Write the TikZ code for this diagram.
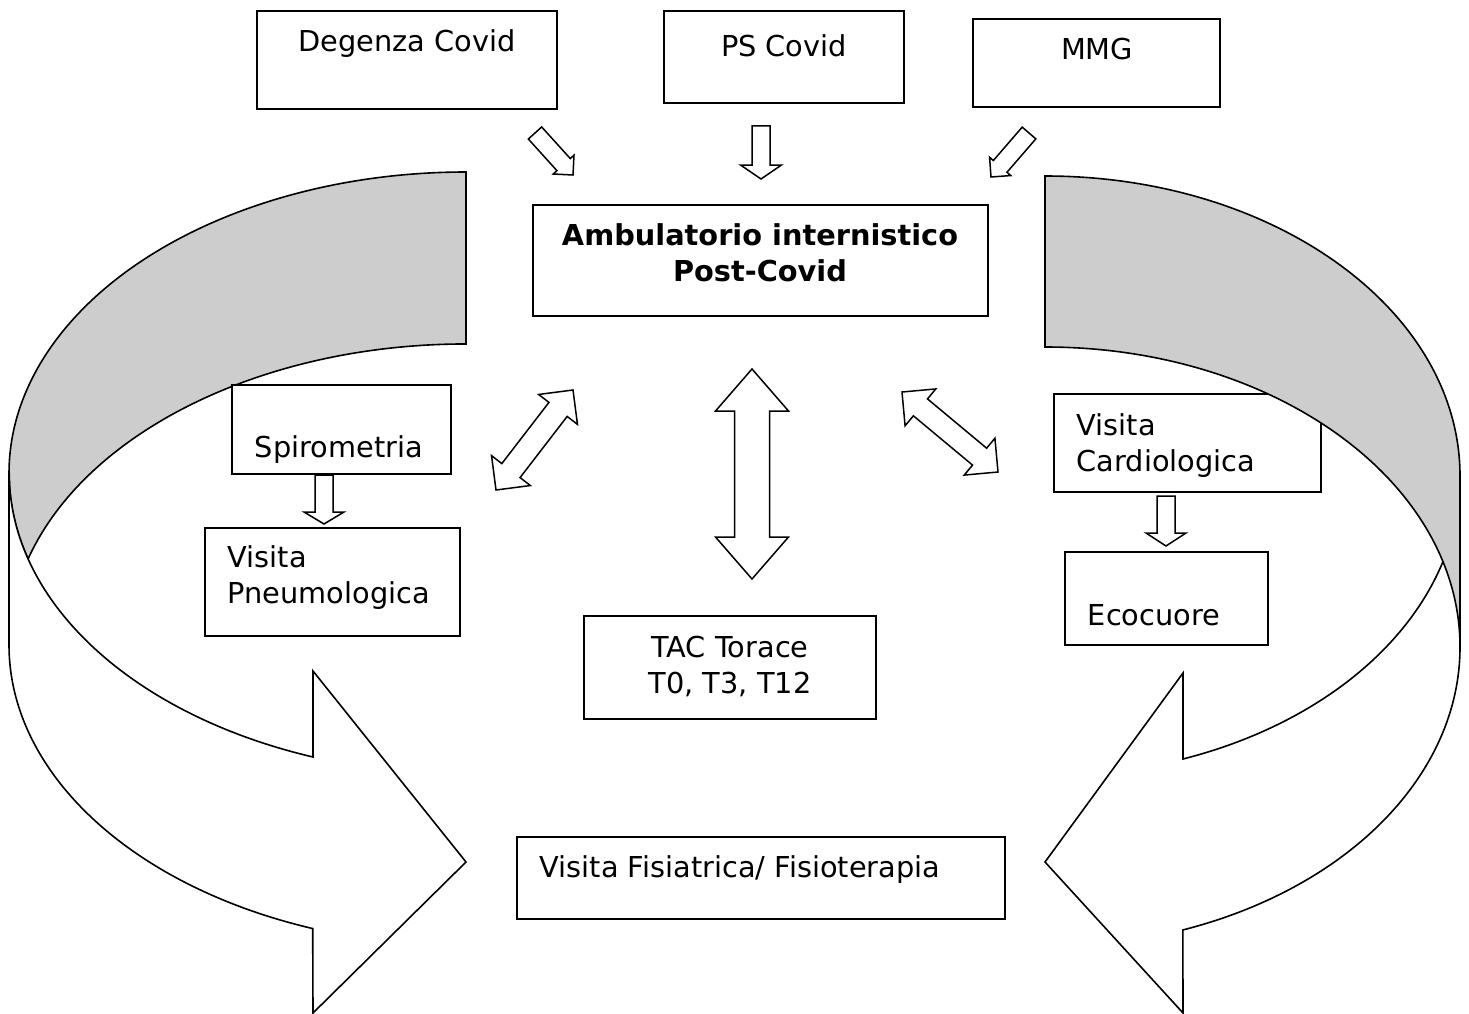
\documentclass[tikz,border=0pt]{standalone}
\usepackage{fontspec}
\setmainfont{DejaVu Sans}
\usepackage{tikz}
\usetikzlibrary{calc}
\definecolor{bandgray}{RGB}{205,205,205}
\newcommand\fatarrow[6]{
  \coordinate (#1-h) at ($(#3)!#6!(#2)$);
  \draw[blockarrow] ($(#2)!#4!90:(#3)$) -- ($(#1-h)!#4!-90:(#2)$) -- ($(#1-h)!#5!-90:(#2)$) -- (#3)
    -- ($(#1-h)!#5!90:(#2)$) -- ($(#1-h)!#4!90:(#2)$) -- ($(#2)!#4!-90:(#3)$) -- cycle;
}
\newcommand\twoarrow[6]{
  \coordinate (#1-p) at ($(#2)!#6!(#3)$);
  \coordinate (#1-q) at ($(#3)!#6!(#2)$);
  \draw[blockarrow] (#2) -- ($(#1-p)!#5!90:(#3)$) -- ($(#1-p)!#4!90:(#3)$) -- ($(#1-q)!#4!-90:(#2)$)
    -- ($(#1-q)!#5!-90:(#2)$) -- (#3) -- ($(#1-q)!#5!90:(#2)$) -- ($(#1-q)!#4!90:(#2)$)
    -- ($(#1-p)!#4!-90:(#3)$) -- ($(#1-p)!#5!-90:(#3)$) -- cycle;
}

\begin{document}
\begin{tikzpicture}[x=1pt, y=1pt, line width=1.6pt,
    boxnode/.style={draw, fill=white, inner sep=0, outer sep=0},
    txtnode/.style={inner sep=0, font=\fontsize{28.8}{36}\selectfont},
    blockarrow/.style={draw, fill=white, line width=1.5pt},
    bandfill/.style={draw, fill=bandgray},
    curvefill/.style={draw, fill=white}]
	\useasboundingbox (0,0) rectangle (1469,-1014);
	\filldraw[bandfill] (466,-172) arc[start angle=90, end angle=196.6, x radius=457, y radius=301]
	    arc[start angle=163.4, end angle=90, x radius=457, y radius=301] -- cycle;
	\filldraw[curvefill] (9,-473) -- (9,-645) arc[start angle=180, end angle=250.4, x radius=457, y radius=301]
	    -- (313,-1013) -- (466,-862) -- (313,-671) -- (313,-757)
	    arc[start angle=250.4, end angle=180, x radius=457, y radius=301] -- cycle;
	\filldraw[curvefill] (1460,-476) -- (1460,-647) arc[start angle=0, end angle=-70.6, x radius=415, y radius=300]
	    -- (1183,-1013) -- (1045,-862) -- (1183,-673) -- (1183,-759)
	    arc[start angle=-70.6, end angle=0, x radius=415, y radius=300] -- cycle;

	\node[boxnode, minimum width=300, minimum height=98] (degenza) at (407,-60) {};
	\node[txtnode, anchor=base] (degenzatext) at (407,-52) {Degenza Covid};
	\node[boxnode, minimum width=240, minimum height=92] (ps) at (784,-57) {};
	\node[txtnode, anchor=base] (pstext) at (784,-57) {PS Covid};
	\node[boxnode, minimum width=247, minimum height=88] (mmg) at (1096.5,-63) {};
	\node[txtnode, anchor=base] (mmgtext) at (1097,-60) {MMG};
	\node[boxnode, minimum width=455, minimum height=111] (amb) at (760.5,-260.5) {};
	\node[txtnode, anchor=base, align=center, font=\fontsize{28.8}{36}\selectfont\bfseries] (ambtext) at (760,-281) {Ambulatorio internistico\\Post-Covid};
	\node[boxnode, minimum width=219, minimum height=89] (spiro) at (341.5,-429.5) {};
	\node[txtnode, anchor=base west] (spirotext) at (254,-457) {Spirometria};
	\node[boxnode, minimum width=255, minimum height=108] (pneumo) at (332.5,-582) {};
	\node[txtnode, anchor=base west, align=left] (pneumotext) at (227,-603) {Visita\\Pneumologica};
	\node[boxnode, minimum width=292, minimum height=103] (tac) at (730,-667.5) {};
	\node[txtnode, anchor=base, align=center] (tactext) at (730,-693) {TAC Torace\\T0, T3, T12};
	\node[boxnode, minimum width=267, minimum height=98] (cardio) at (1187.5,-443) {};
	\node[txtnode, anchor=base west, align=left] (cardiotext) at (1076,-471) {Visita\\Cardiologica};
	\node[boxnode, minimum width=203, minimum height=93] (eco) at (1166.5,-598.5) {};
	\node[txtnode, anchor=base west] (ecotext) at (1087,-625) {Ecocuore};
	\node[boxnode, minimum width=488, minimum height=82] (fis) at (761,-878) {};
	\node[txtnode, anchor=base west] (fistext) at (539,-877) {Visita Fisiatrica/ Fisioterapia};

	\coordinate (dg-a) at (535,-133);
	\coordinate (dg-b) at (573,-175);
	\coordinate (ps-a) at (761,-126);
	\coordinate (ps-b) at (761,-179);
	\coordinate (mm-a) at (1029,-133);
	\coordinate (mm-b) at (991,-177);
	\coordinate (sp-a) at (324,-475);
	\coordinate (sp-b) at (324,-524);
	\coordinate (cd-a) at (1166,-496);
	\coordinate (cd-b) at (1166,-546);
	\coordinate (lf-a) at (496,-490);
	\coordinate (lf-b) at (573,-390);
	\coordinate (md-a) at (752,-369);
	\coordinate (md-b) at (752,-579);
	\coordinate (rt-a) at (902,-392);
	\coordinate (rt-b) at (998,-472);
	\fatarrow{dg}{dg-a}{dg-b}{9pt}{14pt}{14pt}
	\fatarrow{ps}{ps-a}{ps-b}{9pt}{20.5pt}{14pt}
	\fatarrow{mm}{mm-a}{mm-b}{9pt}{14pt}{14pt}
	\fatarrow{sp}{sp-a}{sp-b}{9pt}{20pt}{12pt}
	\fatarrow{cd}{cd-a}{cd-b}{9pt}{20pt}{13pt}
	\twoarrow{lf}{lf-a}{lf-b}{11.5pt}{24.5pt}{24.5pt}
	\twoarrow{md}{md-a}{md-b}{17.5pt}{36.5pt}{42pt}
	\twoarrow{rt}{rt-a}{rt-b}{11pt}{24pt}{24pt}

	\filldraw[bandfill] (1045,-176) arc[start angle=90, end angle=0, x radius=415, y radius=300]
	    -- (1460,-647) arc[start angle=0, end angle=90, x radius=415, y radius=300] -- cycle;
\end{tikzpicture}
\end{document}
